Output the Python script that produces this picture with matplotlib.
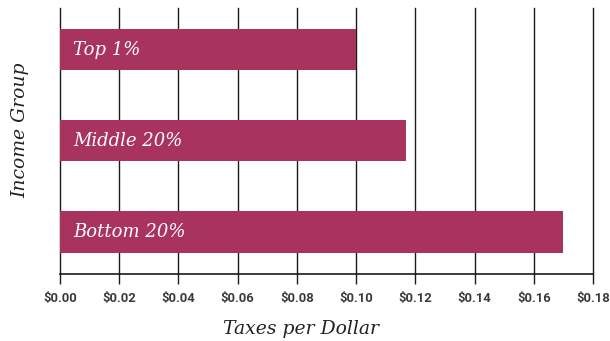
import matplotlib
matplotlib.use("Agg")
import matplotlib.pyplot as plt

# Data
groups = ["Top 1%", "Middle 20%", "Bottom 20%"]
taxes_per_dollar = [0.100, 0.117, 0.170]
x_ticks = [0.00, 0.02, 0.04, 0.06, 0.08, 0.10, 0.12, 0.14, 0.16, 0.18]
x_tick_labels = ["$0.00", "$0.02", "$0.04", "$0.06", "$0.08",
                 "$0.10", "$0.12", "$0.14", "$0.16", "$0.18"]

bar_color = "#A9335F"
line_color = "#1a1a1a"

fig = plt.figure(figsize=(6.10, 3.41), dpi=100)
W, H = 610, 341
ax = fig.add_axes([60 / W, 1 - 274 / H, (593 - 60) / W, (274 - 8) / H])

ypos = list(range(len(groups)))
ax.barh(ypos, taxes_per_dollar, height=0.45, color=bar_color, zorder=3)

for y, g in zip(ypos, groups):
    ax.annotate(g, xy=(0, y), xytext=(9.5, 0), textcoords="offset points",
                ha="left", va="center", color="white", fontsize=13,
                family="DejaVu Serif", style="italic", zorder=4)

ax.set_xlim(0, 0.18)
ax.set_ylim(2.46, -0.455)
ax.set_xticks(x_ticks)
ax.set_xticklabels([t.replace("$", r"\$") for t in x_tick_labels],
                   family="Roboto", fontweight="bold", fontsize=9.4,
                   color="#3a3a3a")
ax.set_yticks([])

# vertical grid at every tick
for xv in x_ticks:
    ax.axvline(xv, color=line_color, lw=1.0, zorder=1, clip_on=False)

for side in ["top", "right", "left"]:
    ax.spines[side].set_visible(False)
ax.spines["bottom"].set_color(line_color)
ax.spines["bottom"].set_linewidth(1.2)
ax.tick_params(axis="x", length=7, width=1.0, color=line_color, pad=6)

fig.text(301 / W, 1 - 329 / H, "Taxes per Dollar", ha="center", va="center",
         family="DejaVu Serif", style="italic", fontsize=13.5, color="#222222")
fig.text(20 / W, 1 - 130 / H, "Income Group", ha="center", va="center",
         rotation=90, family="DejaVu Serif", style="italic", fontsize=13.5,
         color="#222222")

fig.savefig("out.png", dpi=100)
